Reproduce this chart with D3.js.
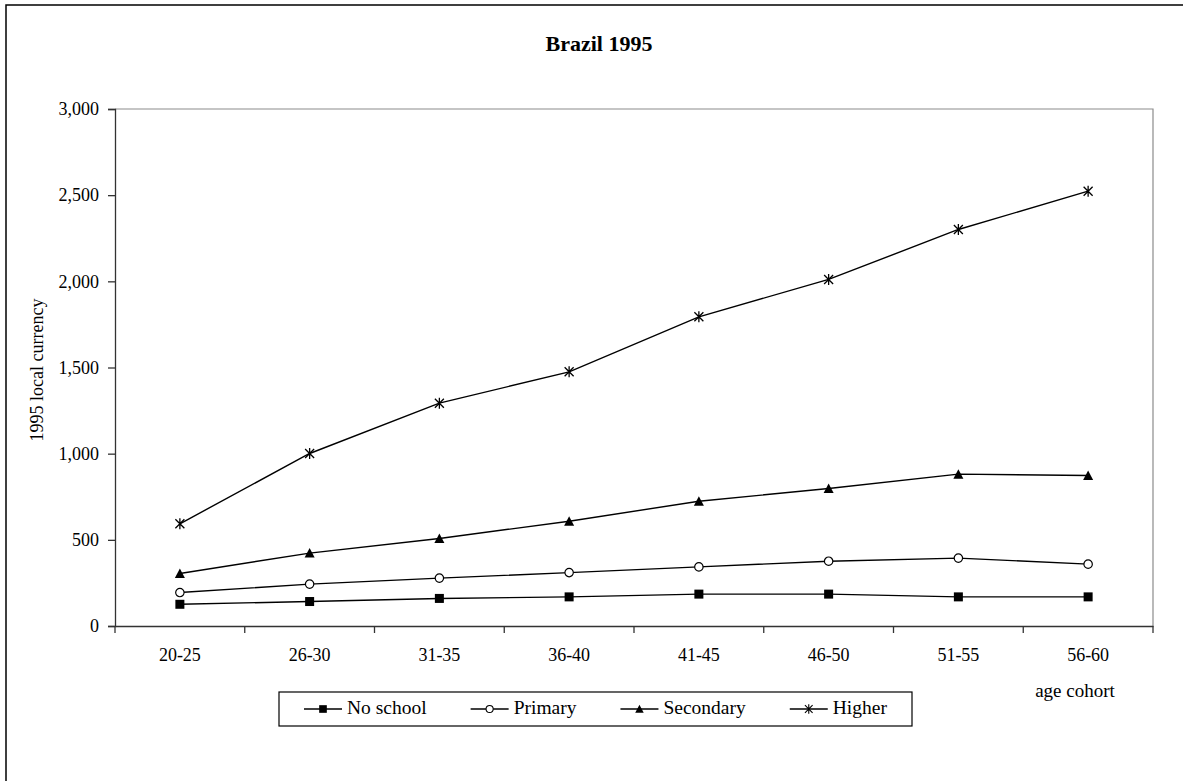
<!DOCTYPE html>
<html>
<head>
<meta charset="utf-8">
<script src="https://cdn.jsdelivr.net/npm/d3@7"></script>
<style>
  body { margin: 0; background: #fff; }
  svg { display: block; font-family: "Times New Roman", "Liberation Serif", serif; }
</style>
</head>
<body>
<div id="chart"></div>
<script>
// age cohorts on the x axis
const cohorts = ["20-25", "26-30", "31-35", "36-40", "41-45", "46-50", "51-55", "56-60"];

// values per education level (1995 local currency)
const noSchool  = [126, 142, 160, 169, 185, 185, 169, 169];
const primary   = [194, 243, 278, 310, 343, 376, 394, 359];
const secondary = [305, 423, 508, 608, 724, 798, 881, 873];
const higher    = [593, 1001, 1293, 1475, 1794, 2011, 2301, 2523];

const yTicks = [0, 500, 1000, 1500, 2000, 2500, 3000];

const seriesNames = ["No school", "Primary", "Secondary", "Higher"];
const seriesMarkers = ["square", "circle", "triangle", "asterisk"];

const width = 1183, height = 781;
const plot = { left: 115, right: 1153, top: 109, bottom: 626 };

const svg = d3.select("#chart").append("svg")
  .attr("width", width)
  .attr("height", height);

svg.append("rect").attr("width", width).attr("height", height).attr("fill", "#fff");

// outer chart frame (right/bottom edges fall outside the picture)
svg.append("rect")
  .attr("x", 6).attr("y", 5)
  .attr("width", 1300).attr("height", 900)
  .attr("fill", "none")
  .attr("stroke", "#000")
  .attr("stroke-width", 1.5);

// title
svg.append("text")
  .attr("x", 599).attr("y", 51)
  .attr("text-anchor", "middle")
  .style("font-size", "22px")
  .style("font-weight", "bold")
  .text("Brazil 1995");

const x = d3.scaleBand()
  .domain(cohorts)
  .range([plot.left, plot.right])
  .padding(0);

const y = d3.scaleLinear()
  .domain([0, 3000])
  .range([plot.bottom, plot.top]);

const cx = d => x(d) + x.bandwidth() / 2;

// plot area border (top + right, light grey)
svg.append("path")
  .attr("d", `M${plot.left},${plot.top}H${plot.right}V${plot.bottom}`)
  .attr("fill", "none")
  .attr("stroke", "#8c8c8c")
  .attr("stroke-width", 1.2);

// Y axis
const yAxis = svg.append("g")
  .attr("transform", `translate(${plot.left},0)`)
  .call(d3.axisLeft(y).tickValues(yTicks).tickSize(7).tickPadding(9).tickFormat(d3.format(",")));
yAxis.selectAll("path, line").attr("stroke", "#333").attr("stroke-width", 1.3);
yAxis.selectAll("text").style("font-size", "18px").attr("fill", "#000").style("font-family", null);
yAxis.attr("font-family", null);

// X axis: labels centred in bands, ticks on band boundaries
const xAxis = svg.append("g")
  .attr("transform", `translate(0,${plot.bottom})`)
  .call(d3.axisBottom(x).tickSize(0).tickPadding(22));
xAxis.attr("font-family", null);
xAxis.select(".domain").attr("stroke", "#333").attr("stroke-width", 1.3);
xAxis.selectAll("text").style("font-size", "18px").attr("fill", "#000");

const boundaries = cohorts.map(c => x(c)).concat([x.range()[1]]);
svg.append("g")
  .selectAll("line")
  .data(boundaries)
  .enter()
  .append("line")
  .attr("x1", d => d).attr("x2", d => d)
  .attr("y1", plot.bottom).attr("y2", plot.bottom + 7)
  .attr("stroke", "#333")
  .attr("stroke-width", 1.3);

// axis titles
svg.append("text")
  .attr("transform", "translate(43,370) rotate(-90)")
  .attr("text-anchor", "middle")
  .style("font-size", "18px")
  .text("1995 local currency");

svg.append("text")
  .attr("x", 1075).attr("y", 697)
  .attr("text-anchor", "middle")
  .style("font-size", "19px")
  .text("age cohort");

// marker drawing
const drawMarker = (g, type) => {
  if (type === "square") {
    g.append("rect").attr("x", -4.5).attr("y", -4.5).attr("width", 9).attr("height", 9)
      .attr("fill", "#000");
  } else if (type === "circle") {
    g.append("circle").attr("r", 4.2).attr("fill", "#fff").attr("stroke", "#000").attr("stroke-width", 1.2);
  } else if (type === "triangle") {
    g.append("path").attr("d", "M0,-5L5,4.5L-5,4.5Z").attr("fill", "#000");
  } else {
    g.append("path").attr("d", "M-4.5,-4.5L4.5,4.5M-4.5,4.5L4.5,-4.5M0,-5.5V5.5")
      .attr("fill", "none").attr("stroke", "#000").attr("stroke-width", 1.3);
  }
};

const allSeries = [noSchool, primary, secondary, higher];

const line = d3.line()
  .x((d, i) => cx(cohorts[i]))
  .y(d => y(d));

allSeries.forEach((values, s) => {
  svg.append("path")
    .datum(values)
    .attr("fill", "none")
    .attr("stroke", "#000")
    .attr("stroke-width", 1.4)
    .attr("d", line);

  svg.append("g")
    .selectAll("g")
    .data(values)
    .enter()
    .append("g")
    .attr("transform", (d, i) => `translate(${cx(cohorts[i])},${y(d)})`)
    .each(function () { drawMarker(d3.select(this), seriesMarkers[s]); });
});

// legend
const legend = svg.append("g");
legend.append("rect")
  .attr("x", 279).attr("y", 692)
  .attr("width", 633).attr("height", 34)
  .attr("fill", "#fff")
  .attr("stroke", "#000")
  .attr("stroke-width", 1.2);

let lx = 304;
seriesNames.forEach((name, s) => {
  const item = legend.append("g").attr("transform", `translate(${lx},709)`);
  item.append("line").attr("x1", 0).attr("x2", 38).attr("y1", 0).attr("y2", 0)
    .attr("stroke", "#000").attr("stroke-width", 1.4);
  const m = item.append("g").attr("transform", "translate(19,0) scale(0.85)");
  drawMarker(m, seriesMarkers[s]);
  const t = item.append("text")
    .attr("x", 43).attr("y", 5)
    .style("font-size", "19.5px")
    .text(name);
  lx += 43 + t.node().getComputedTextLength() + 44;
});
</script>
</body>
</html>
